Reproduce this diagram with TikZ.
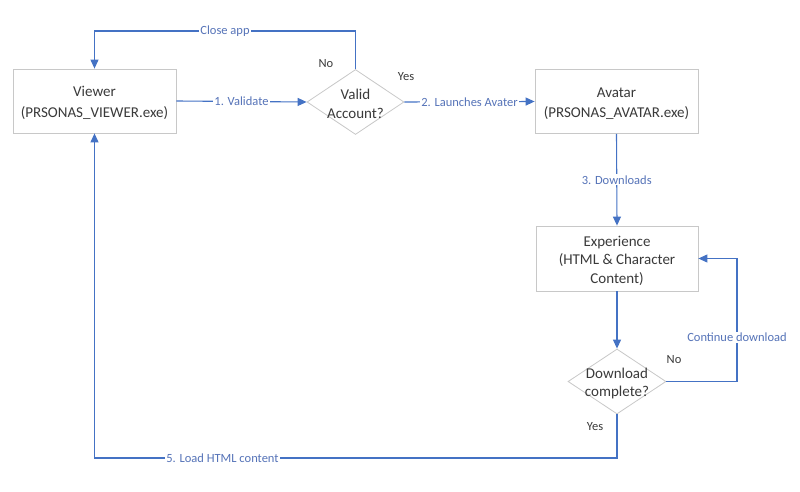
\documentclass[tikz,border=0pt]{standalone}
\usepackage{fontspec}
\setmainfont{Carlito}
\usetikzlibrary{shapes.geometric,arrows.meta}
\definecolor{lineblue}{HTML}{4472C4}
\definecolor{labelblue}{HTML}{5573B8}
\definecolor{boxgray}{HTML}{C8C8C8}
\definecolor{textgray}{HTML}{3A3A3A}
\begin{document}
\begin{tikzpicture}[x=1pt,y=-1pt,
  procbox/.style={draw=boxgray,line width=0.8pt,fill=white,minimum width=163pt,minimum height=64pt,inner sep=0pt,align=center,text=textgray,font=\fontsize{15}{20.5}\selectfont},
  decision/.style={draw=boxgray,line width=0.8pt,fill=white,diamond,minimum width=97pt,minimum height=65pt,inner sep=0pt,align=center,text=textgray,font=\fontsize{15}{19}\selectfont},
  conn/.style={draw=lineblue,line width=1.1pt,-{Triangle[length=9pt,width=8pt]}},
  lbl/.style={fill=white,inner sep=1pt,text=labelblue,font=\fontsize{12.5}{14}\selectfont},
  ans/.style={text=textgray,font=\fontsize{12.5}{14}\selectfont,inner sep=0pt}]
\useasboundingbox (0,0) rectangle (800,492);
\node[procbox] (viewer) at (94.5,101) {};
\node[text=textgray,font=\fontsize{15}{20.5}\selectfont,align=center] (viewertxt) at (94.5,103) {Viewer\\(PRSONAS\_VIEWER.exe)};
\node[decision] (valid) at (355.5,102) {};
\node[text=textgray,font=\fontsize{15}{19}\selectfont,align=center] (validtxt) at (355.5,103.5) {Valid\\Account?};
\node[procbox] (avatar) at (616.5,101.5) {};
\node[text=textgray,font=\fontsize{15}{20.5}\selectfont,align=center] (avatartxt) at (616.5,103.5) {Avatar\\(PRSONAS\_AVATAR.exe)};
\node[procbox,minimum width=162pt,minimum height=65pt,font=\fontsize{15}{18.5}\selectfont] (exp) at (617,258.5) {};
\node[text=textgray,font=\fontsize{15}{18.5}\selectfont,align=center] (exptxt) at (617,260.5) {Experience\\(HTML \& Character\\Content)};
\node[decision,minimum width=98pt] (dl) at (617,381.5) {};
\node[text=textgray,font=\fontsize{15}{18.5}\selectfont,align=center] (dltxt) at (617,383.5) {Download\\complete?};
\coordinate (c1) at (355.5,31);
\coordinate (c2) at (94.5,31);
\coordinate (c3) at (737,381.5);
\coordinate (c4) at (737,258.5);
\coordinate (c5) at (617,458);
\coordinate (c6) at (94.5,458);
\draw[conn] (viewer.east) -- node[lbl]{1. Validate} (valid.west);
\draw[conn] (valid.east) -- node[lbl]{2. Launches Avater} (avatar.west);
\draw[conn] (valid.north) -- (c1) -- node[lbl,pos=0.5]{Close app} (c2) -- (viewer.north);
\draw[conn] (avatar.south) -- node[lbl]{3. Downloads} (exp.north);
\draw[conn] (exp.south) -- (dl.north);
\draw[conn] (dl.east) -- (c3) -- node[lbl,pos=0.36]{Continue download} (c4) -- (exp.east);
\draw[conn] (dl.south) -- (c5) -- node[lbl,pos=0.755]{5. Load HTML content} (c6) -- (viewer.south);
\node[ans] (no1) at (326,64) {No};
\node[ans] (yes1) at (406,77) {Yes};
\node[ans] (no2) at (674,360) {No};
\node[ans] (yes2) at (595,427) {Yes};
\end{tikzpicture}
\end{document}
